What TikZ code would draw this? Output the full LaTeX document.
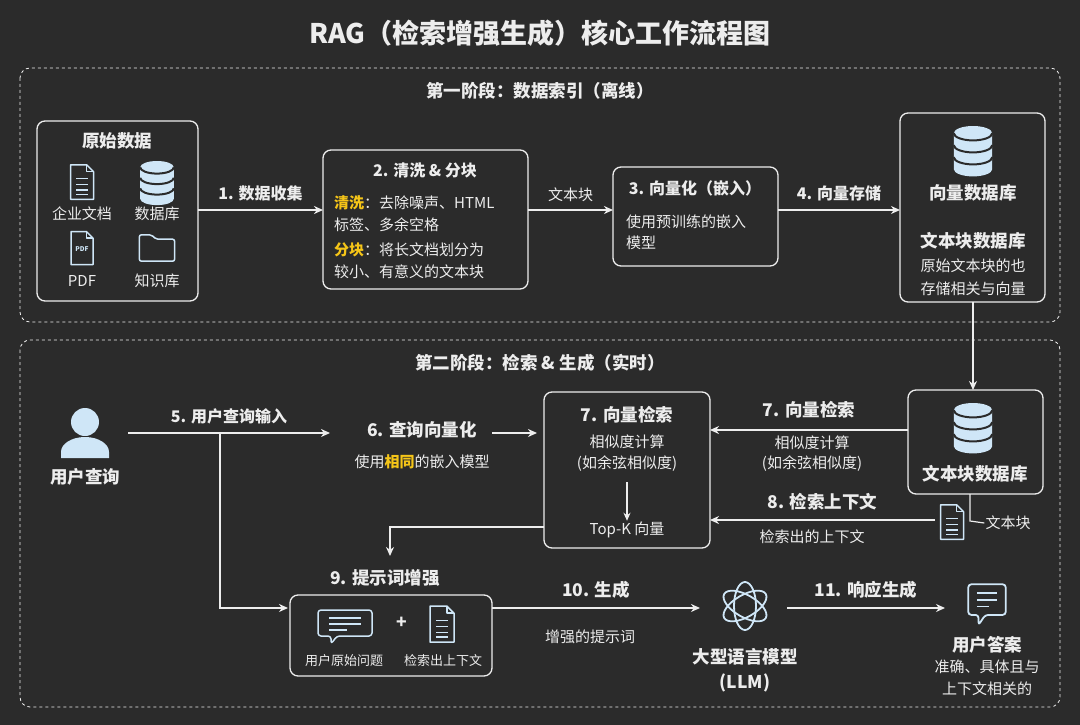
\documentclass[tikz,border=0pt]{standalone}
\usepackage{fontspec}
\setmainfont{Noto Sans CJK SC}
\usetikzlibrary{arrows.meta}
\definecolor{bg}{HTML}{2B2B2B}
\definecolor{fg}{HTML}{EDEDED}
\definecolor{ic}{HTML}{CFE6F7}
\definecolor{yl}{HTML}{F5C518}
\tikzset{
 box/.style={draw=fg,line width=1.3pt,rounded corners=8pt,fill=bg},
 panel/.style={draw=fg!85,dashed,line width=0.8pt,rounded corners=10pt},
 arr/.style={draw=fg,line width=1.6pt,-{Stealth[length=9pt,width=8pt]}},
 ln/.style={draw=fg,line width=1.6pt},
 t/.style={text=fg,font=\fontsize{15}{17}\selectfont,inner sep=1pt},
 tb/.style={text=fg,font=\fontsize{17.5}{20}\bfseries\selectfont,inner sep=1pt},
 il/.style={draw=ic,line width=1.5pt,line join=round},
}
\newcommand\dbic[3]{\begin{scope}[shift={(#1,#2)},scale=#3]
 \fill[ic] (-16,-14) -- (-16,16) arc[start angle=180,end angle=0,x radius=16,y radius=6] -- (16,-14) arc[start angle=0,end angle=-180,x radius=16,y radius=6] -- cycle;
 \foreach \yy in {-14,-4,6}\draw[bg,line width=2pt] (-16,\yy) arc[start angle=180,end angle=0,x radius=16,y radius=6];
\end{scope}}
\newcommand\docic[3]{\begin{scope}[shift={(#1,#2)},scale=#3]
 \draw[il] (-10,-15) -- (4,-15) -- (10,-9) -- (10,15) -- (-10,15) -- cycle;
 \draw[il] (4,-15)--(4,-9)--(10,-9);
 \foreach \yy in {-3,2,7,11}\draw[il](-5,\yy)--(5,\yy);
\end{scope}}
\newcommand\pdfic[2]{\begin{scope}[shift={(#1,#2)},scale=1.1]
 \draw[il] (-10,-15) -- (4,-15) -- (10,-9) -- (10,15) -- (-10,15) -- cycle;
 \draw[il] (4,-15)--(4,-9)--(10,-9);
 \node[text=ic,font=\fontsize{6.5}{7}\bfseries\selectfont] at (0,1) {PDF};
\end{scope}}
\newcommand\folderic[2]{\begin{scope}[shift={(#1,#2)},scale=1.1]
 \draw[il,rounded corners=2pt] (-16,-12) -- (-5,-12) -- (-1,-8) -- (16,-8) -- (16,12) -- (-16,12) -- cycle;
\end{scope}}
\newcommand\chatic[3]{\begin{scope}[shift={(#1,#2)},scale=#3]
 \draw[il,rounded corners=3pt] (-27,-14) -- (27,-14) -- (27,12) -- (-8,12) -- (-14,20) -- (-14,12) -- (-27,12) -- cycle;
 \foreach \yy/\w in {-6/16,0/16,6/9}\draw[il] (-16,\yy)--(-16+2*\w,\yy);
\end{scope}}
\begin{document}
\begin{tikzpicture}[x=1pt,y=-1pt]
\fill[bg] (0,0) rectangle (1080,725);
\useasboundingbox (0,0) rectangle (1080,725);
\node[text=fg,font=\fontsize{27}{30}\bfseries\selectfont] (title) at (540,33) {RAG（检索增强生成）核心工作流程图};
% panel 1
\draw[panel] (20,68) rectangle (1060,322);
\node[tb] (p1) at (540,91) {第一阶段：数据索引（离线）};
\draw[box] (37,121) rectangle (198,301);
\node[tb] (raw) at (117,141) {原始数据};
\docic{82}{182}{1.15}\dbic{157}{182}{1.05}
\node[t] (l1) at (82,214) {企业文档};
\node[t] (l2) at (157,214) {数据库};
\pdfic{82}{248}\folderic{157}{248}
\node[t] (l3) at (82,281) {PDF};
\node[t] (l4) at (157,281) {知识库};
\coordinate (b1r) at (198,210);
\draw[box] (323,150) rectangle (528,289);
\coordinate (b2l) at (323,210);\coordinate (b2r) at (528,210);
\node[tb,font=\fontsize{16}{18}\bfseries\selectfont] (b2t) at (425,170) {2. 清洗 \& 分块};
\node[t,anchor=west] (b2a) at (333,203) {\textcolor{yl}{\bfseries 清洗}：去除噪声、HTML};
\node[t,anchor=west] (b2b) at (333,225) {标签、多余空格};
\node[t,anchor=west] (b2c) at (333,250) {\textcolor{yl}{\bfseries 分块}：将长文档划分为};
\node[t,anchor=west] (b2d) at (333,272) {较小、有意义的文本块};
\draw[arr] (b1r) -- (b2l) node[midway,above=7pt,tb,font=\fontsize{16}{18}\bfseries\selectfont] (e1) {1. 数据收集};
\draw[box] (613,167) rectangle (778,266);
\coordinate (b3l) at (613,210);\coordinate (b3r) at (778,210);
\node[tb,font=\fontsize{16}{18}\bfseries\selectfont] (b3t) at (695,188) {3. 向量化（嵌入）};
\node[t,anchor=west] (b3a) at (625,222) {使用预训练的嵌入};
\node[t,anchor=west] (b3b) at (625,243) {模型};
\draw[arr] (b2r) -- (b3l) node[midway,above=6pt,t] (e2) {文本块};
\draw[box] (900,113) rectangle (1045,302);
\coordinate (b4l) at (900,210);\coordinate (b4b) at (973,302);
\dbic{973}{150}{1.2}
\node[tb] (vdb) at (973,193) {向量数据库};
\node[tb] (tdb) at (973,241) {文本块数据库};
\node[t] (tdb1) at (973,266) {原始文本块的也};
\node[t] (tdb2) at (973,289) {存储相关与向量};
\draw[arr] (b3r) -- (b4l) node[midway,above=7pt,tb,font=\fontsize{16}{18}\bfseries\selectfont] (e3) {4. 向量存储};
% panel 2
\draw[panel] (20,340) rectangle (1060,707);
\node[tb] (p2) at (540,363) {第二阶段：检索 \& 生成（实时）};
\draw[box] (908,390) rectangle (1043,494);
\coordinate (db2t) at (973,390);
\draw[arr] (b4b) -- (db2t);
\dbic{973}{427}{1.2}
\node[tb] (db2) at (975,474) {文本块数据库};
% user
\fill[ic] (85,422) circle (14);
\fill[ic] (61,458) -- (61,452) arc[start angle=180,end angle=360,x radius=24,y radius=15] -- (109,458) -- cycle;
\node[tb] (user) at (85,477) {用户查询};
\coordinate (u) at (128,433);
\node[tb] (q6) at (422,430) {6. 查询向量化};
\node[t] (q6b) at (422,462) {使用\textcolor{yl}{\bfseries 相同}的嵌入模型};
\draw[arr] (u) -- (330,433) node[midway,above=7pt,tb,font=\fontsize{16}{18}\bfseries\selectfont] (e5) {5. 用户查询输入};
\draw[box] (544,392) rectangle (710,548);
\node[tb] (b7) at (627,415) {7. 向量检索};
\node[t] (b7a) at (627,442) {相似度计算};
\node[t] (b7b) at (627,464) {(如余弦相似度)};
\node[t] (topk) at (627,530) {Top-K 向量};
\draw[ln,-{Stealth[length=8pt,width=7pt]}] (627,482) -- (topk.north);
\draw[arr] (492,433) -- (537,433);
\draw[arr] (908,430) -- (710,430) node[midway,above=10pt,tb] (e7) {7. 向量检索};
\node[t] (e7a) at (812,443) {相似度计算};
\node[t] (e7b) at (812,464) {(如余弦相似度)};
\docic{952}{522}{1.15}
\node[t] (tk) at (1008,523) {文本块};
\draw[ln,line width=1.2pt] (970,494) -- (970,521) -- (tk.west);
\draw[arr] (935,520) -- (710,520) node[midway,above=8pt,tb] (e8) {8. 检索上下文};
\node[t] (e8a) at (812,537) {检索出的上下文};
\draw[arr] (544,527) -- (390,527) -- (390,556);
\node[tb] (p9) at (385,578) {9. 提示词增强};
\draw[arr] (220,433) -- (220,608) -- (288,608);
\draw[box] (290,595) rectangle (492,676);
\chatic{345}{624}{1.0}
\node[tb] (plus) at (402,623) {+};
\docic{442}{624}{1.2}
\node[t,font=\fontsize{13}{15}\selectfont] (c1) at (344,661) {用户原始问题};
\node[t,font=\fontsize{13}{15}\selectfont] (c2) at (443,661) {检索出上下文};
% LLM
\begin{scope}[shift={(745,606)}]
\foreach \a in {0,60,120}\draw[il,rotate=\a,line width=1.8pt] (0,0) ellipse (11 and 24);
\end{scope}
\draw[arr] (492,608) -- (700,608) node[midway,above=8pt,tb] (e10) {10. 生成};
\node[t] (e10a) at (590,637) {增强的提示词};
\node[tb] (llm) at (745,657) {大型语言模型};
\node[tb] (llm2) at (745,683) {(LLM)};
\draw[arr] (787,608) -- (945,608) node[midway,above=8pt,tb] (e11) {11. 响应生成};
\begin{scope}[shift={(987,603)},scale=0.85]
 \draw[il,rounded corners=3pt,line width=1.8pt] (-22,-22) -- (22,-22) -- (22,14) -- (-2,14) -- (-10,26) -- (-10,14) -- (-22,14) -- cycle;
 \foreach \yy/\w in {-12/24,-4/24,4/14}\draw[il,line width=1.8pt] (-12,\yy)--(-12+\w,\yy);
\end{scope}
\node[tb] (ans) at (987,645) {用户答案};
\node[t] (ans1) at (987,667) {准确、具体且与};
\node[t] (ans2) at (987,689) {上下文相关的};
\end{tikzpicture}
\end{document}
